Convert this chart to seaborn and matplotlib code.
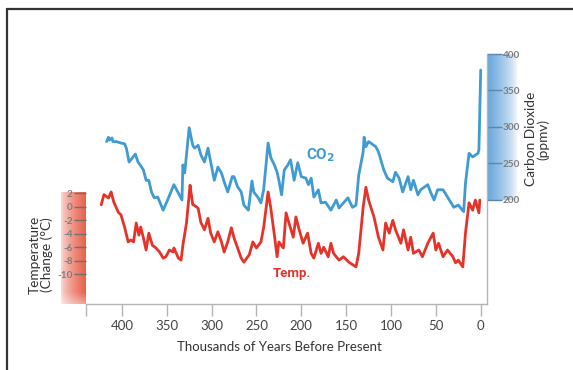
import numpy as np
import matplotlib
matplotlib.use("Agg")
import matplotlib.pyplot as plt
from matplotlib.lines import Line2D
import seaborn as sns

# ---------------- data ----------------
co2_ka = [417, 415, 414, 411, 410, 406, 401, 397, 395, 392,
          390, 385, 382, 378, 376, 373, 370, 367, 364, 360,
          354, 348, 342, 333, 332, 330, 325, 321, 319, 315,
          312, 308, 304, 301, 297, 293, 289, 286, 282, 277,
          275, 271, 267, 264, 259, 255, 253, 248, 245, 242,
          237, 234, 230, 227, 225, 222, 219, 215, 212, 208,
          204, 200, 195, 192, 189, 186, 181, 178, 173, 167,
          161, 158, 148, 143, 139, 136, 131, 130, 128, 125,
          117, 114, 108, 104, 98, 95, 91, 87, 81, 78,
          75, 70, 67, 59, 56, 52, 48, 42, 37, 30,
          25, 19, 17, 13, 9, 3, 2, 1, 0]
co2_ppm = [280, 286, 282, 285, 280, 280, 278, 277, 271, 252,
           255, 263, 252, 245, 241, 227, 227, 211, 203, 204,
           186, 203, 221, 200, 248, 237, 299, 275, 271, 275,
           262, 252, 271, 252, 227, 245, 237, 225, 211, 232,
           232, 218, 211, 193, 186, 226, 211, 203, 196, 214,
           278, 258, 248, 238, 227, 207, 241, 248, 255, 227,
           251, 232, 230, 221, 230, 204, 214, 196, 197, 186,
           200, 189, 203, 190, 193, 234, 266, 286, 273, 280,
           273, 266, 241, 230, 225, 238, 230, 211, 232, 214,
           227, 207, 214, 221, 211, 200, 214, 214, 204, 190,
           193, 184, 223, 264, 259, 264, 269, 323, 378]

temp_ka = [423, 420, 415, 412, 409, 404, 401, 397, 393, 390,
           387, 384, 381, 379, 376, 373, 370, 366, 362, 358,
           354, 351, 347, 343, 342, 337, 334, 332, 328, 325,
           324, 321, 320, 315, 312, 308, 304, 301, 297, 293,
           289, 286, 282, 278, 275, 271, 267, 264, 258, 254,
           250, 245, 242, 237, 234, 230, 227, 225, 220, 217,
           214, 209, 206, 203, 198, 193, 189, 186, 181, 178,
           175, 170, 167, 164, 158, 153, 147, 139, 136, 131,
           128, 125, 119, 114, 109, 106, 102, 98, 95, 89,
           86, 81, 78, 75, 69, 65, 59, 53, 50, 47,
           42, 37, 31, 28, 25, 20, 17, 13, 9, 6,
           2, 1]
temp_c = [0.3, 1.8, 1.3, 2.2, 0.7, -0.8, -1.2, -3.0, -5.2, -4.9,
          -5.2, -2.4, -4.2, -3.0, -4.6, -6.4, -3.9, -5.7, -6.1, -6.7,
          -7.6, -7.4, -6.4, -6.7, -6.1, -7.6, -7.9, -5.7, -2.4, 1.8,
          3.2, 0.3, 0.3, -0.2, -2.3, -3.4, -1.7, -3.9, -5.2, -3.7,
          -5.2, -6.7, -5.2, -3.1, -4.6, -6.1, -7.6, -8.2, -7.1, -5.2,
          -6.1, -5.2, -3.1, 2.2, -0.2, -4.2, -7.4, -5.2, -6.1, -0.9,
          -2.3, -4.5, -1.5, -3.1, -5.4, -3.9, -6.9, -7.6, -5.4, -6.9,
          -6.0, -7.4, -5.4, -6.9, -7.9, -7.4, -8.2, -8.9, -6.9, 0.0,
          2.9, 1.0, -1.5, -4.5, -6.4, -2.4, -3.9, -2.0, -3.4, -5.4,
          -3.4, -6.4, -4.5, -6.9, -6.4, -7.4, -5.4, -3.9, -6.4, -5.4,
          -7.4, -6.4, -7.4, -8.3, -7.9, -8.9, -3.9, 0.6, -0.5, 1.0,
          -0.9, 1.0]

x_ticks = [440, 400, 350, 300, 250, 200, 150, 100, 50, 0]
x_ticklabels = ["", "400", "350", "300", "250", "200", "150", "100", "50", "0"]
temp_ticks = [2, 0, -2, -4, -6, -8, -10]
co2_ticks = [200, 250, 300, 350, 400]

x_label = "Thousands of Years Before Present"
temp_label = "Temperature\n(Change (°C)"
co2_label = "Carbon Dioxide\n(ppmv)"

RED = "#e5332a"
BLUE = "#3f9bd2"

# ---------------- figure ----------------
sns.set_style("white")
plt.rcParams['font.family'] = ['Lato', 'DejaVu Sans']

W, H = 573, 370
fig = plt.figure(figsize=(W / 100, H / 100), dpi=100)
fig.patch.set_facecolor("white")


def fr(x0, y0, x1, y1):
    return [x0 / W, (H - y1) / H, (x1 - x0) / W, (y1 - y0) / H]


def fx(x):
    return x / W


def fy(y):
    return (H - y) / H


n = 80
t = np.linspace(0, 1, n)

# red gradient bar (temperature scale)
axr = fig.add_axes(fr(61, 192, 86, 304), zorder=0)
img = np.zeros((n, n, 4))
img[..., 0] = 0.91
img[..., 1] = 0.38
img[..., 2] = 0.29
ha = 0.2 + 0.8 * t ** 0.7
va = np.clip((1 - t) / 0.10, 0, 1) * 0.4 + 0.6
img[..., 3] = va[:, None] * ha[None, :]
axr.imshow(img, aspect="auto", extent=[0, 1, 0, 1], origin="upper")
axr.set_axis_off()

# blue gradient bar (CO2 scale)
axb = fig.add_axes(fr(487, 54, 518, 200), zorder=0)
imgb = np.zeros((n, n, 4))
imgb[..., 0] = 0.40
imgb[..., 1] = 0.65
imgb[..., 2] = 0.86
hb = np.clip(1 - t, 0, 1) ** 0.7
imgb[..., 3] = hb[None, :]
axb.imshow(imgb, aspect="auto", extent=[0, 1, 0, 1])
axb.set_axis_off()

# main axes (temperature)
ax = fig.add_axes(fr(86, 54, 487, 304), zorder=2)
ax.patch.set_alpha(0)
sns.lineplot(x=temp_ka, y=temp_c, ax=ax, color=RED, linewidth=2.0)
ax.set_xlim(440, -7)
ax.set_ylim(-14.4, 22.64)

# twin axes (CO2)
ax2 = ax.twinx()
ax2.set_zorder(3)
ax2.patch.set_alpha(0)
sns.lineplot(x=co2_ka, y=co2_ppm, ax=ax2, color=BLUE, linewidth=2.0)
ax2.set_ylim(57.5, 400)
ax2.set_xlim(440, -7)

for a in (ax, ax2):
    a.set_xlabel("")
    a.set_ylabel("")
    a.grid(False)

for s in ("left", "top", "right"):
    ax.spines[s].set_visible(False)
ax.spines["bottom"].set_color("#b5b5b5")
ax.spines["bottom"].set_linewidth(1.0)

for s in ("left", "top", "bottom"):
    ax2.spines[s].set_visible(False)
ax2.spines["right"].set_color("#b5b5b5")
ax2.spines["right"].set_linewidth(1.0)
ax2.spines["right"].set_bounds(57.5, 400)

ax.set_xticks(x_ticks)
ax.set_xticklabels(x_ticklabels)
ax.tick_params(axis="x", bottom=True, direction="out", length=8.8, width=1.0,
               color="#b5b5b5", labelsize=9.5, labelcolor="#444444", pad=2.5)

ax.set_yticks(temp_ticks)
ax.set_yticklabels([str(v) for v in temp_ticks])
ax.tick_params(axis="y", left=True, direction="out", length=8.5, width=1.0,
               color="#6f6f6f", labelsize=7.2, labelcolor="#7c7c7c", pad=1)
for lab in ax.get_yticklabels():
    lab.set_fontweight("bold")

ax2.set_yticks(co2_ticks)
ax2.set_yticklabels([str(v) for v in co2_ticks])
ax2.tick_params(axis="y", right=True, direction="out", length=10.5, width=1.0,
                color="#5a86b2", labelsize=7.2, labelcolor="#7c7c7c", pad=0.5)
for lab in ax2.get_yticklabels():
    lab.set_fontweight("bold")

# labels
fig.text(fx(279.5), fy(347), x_label, ha="center", va="center",
         fontsize=9.5, color="#333333")
fig.text(fx(41), fy(255), temp_label, ha="center", va="center", rotation=90,
         fontsize=9.8, color="#333333", linespacing=1.0, multialignment="center")
fig.text(fx(537), fy(139), co2_label, ha="center", va="center", rotation=90,
         fontsize=9.8, color="#333333", linespacing=1.0, multialignment="center")

fig.text(fx(321), fy(155), r"CO$_\mathbf{2}$", ha="center", va="center",
         fontsize=11, fontweight="bold", color=BLUE, family="Roboto")
fig.text(fx(292), fy(273), "Temp.", ha="center", va="center",
         fontsize=9.5, fontweight="bold", color=RED, family="Roboto")

# outer frame lines
fig.add_artist(Line2D([fx(7), 1.0], [fy(9), fy(9)], color="#333333", linewidth=1.6))
fig.add_artist(Line2D([fx(7), fx(7)], [0.0, fy(9)], color="#333333", linewidth=1.6))

fig.savefig("out.png", dpi=100, facecolor="white")
